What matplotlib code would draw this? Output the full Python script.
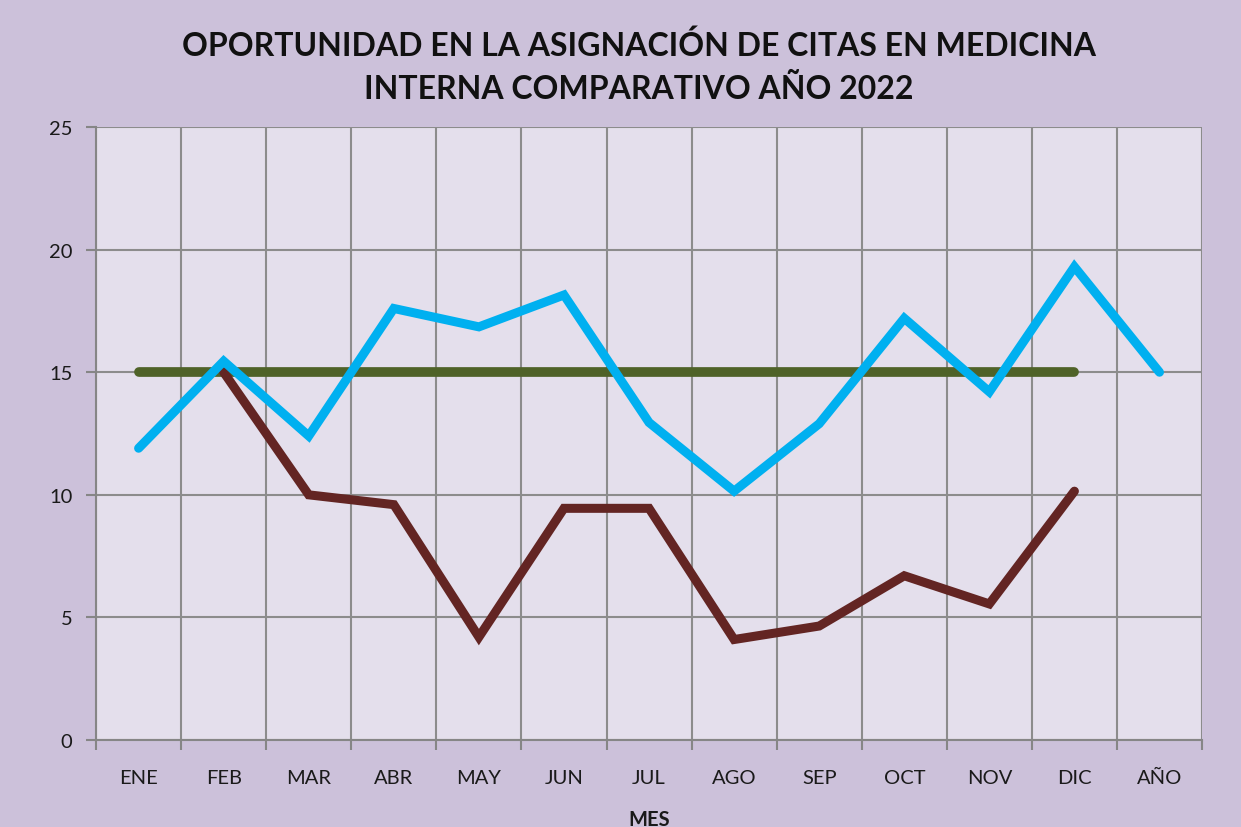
import matplotlib
matplotlib.use("Agg")
import matplotlib.pyplot as plt
import numpy as np

months = ["ENE", "FEB", "MAR", "ABR", "MAY", "JUN", "JUL", "AGO", "SEP", "OCT", "NOV", "DIC", "AÑO"]
serie_azul = [11.9, 15.45, 12.4, 17.6, 16.85, 18.15, 12.95, 10.15, 12.9, 17.2, 14.2, 19.3, 15.0]
serie_roja = [None, 15.0, 10.0, 9.6, 4.2, 9.45, 9.45, 4.1, 4.65, 6.7, 5.55, 10.15, None]
meta = [15, 15, 15, 15, 15, 15, 15, 15, 15, 15, 15, 15, None]
yticks = [0, 5, 10, 15, 20, 25]

def to_arr(v):
    return np.array([np.nan if x is None else x for x in v], dtype=float)

plt.rcParams['font.family'] = ['Lato', 'DejaVu Sans']

fig = plt.figure(figsize=(12.41, 8.28), dpi=100)
fig.patch.set_facecolor("#CCC1DA")
ax = fig.add_axes([0.0774, 0.105, 0.8912, 0.7404])
ax.set_facecolor("#E4DFEC")

x = np.arange(len(months))
ax.plot(x, to_arr(meta), color="#4F6228", lw=7, solid_capstyle="round", zorder=3)
ax.plot(x, to_arr(serie_roja), color="#632523", lw=6.5, solid_capstyle="round", solid_joinstyle="miter", zorder=4)
ax.plot(x, to_arr(serie_azul), color="#00B0F0", lw=6.5, solid_capstyle="round", solid_joinstyle="miter", zorder=5)

ax.set_xlim(-0.5, len(months) - 0.5)
ax.set_ylim(0, 25)
ax.set_yticks(yticks)
ax.set_yticklabels([str(t) for t in yticks], fontsize=14.5, color="#1a1a1a")

# category boundaries
bounds = np.arange(-0.5, len(months), 1.0)
ax.set_xticks(bounds)
ax.set_xticklabels([])
ax.set_xticks(x, minor=True)
ax.set_xticklabels(months, minor=True, fontsize=14.5, color="#1a1a1a")
ax.tick_params(axis="x", which="minor", length=0, pad=21)
ax.tick_params(axis="x", which="major", length=7, width=1.5, color="#868686", direction="out")
ax.tick_params(axis="y", length=7, width=1.5, color="#868686", direction="out", pad=10)

ax.grid(True, which="major", axis="both", color="#8C8C8C", lw=1.5, zorder=1)
ax.set_axisbelow(True)
for s in ["top", "right"]:
    ax.spines[s].set_visible(False)
for s in ["left", "bottom"]:
    ax.spines[s].set_color("#868686")
    ax.spines[s].set_linewidth(1.5)

ax.set_xlabel("MES", fontsize=14.5, fontweight="bold", color="#1a1a1a", labelpad=16)

fig.text(0.515, 0.945, "OPORTUNIDAD EN LA ASIGNACIÓN DE CITAS EN MEDICINA", ha="center", va="center",
         fontsize=23, fontweight="bold", color="#111111")
fig.text(0.515, 0.892, "INTERNA COMPARATIVO AÑO 2022", ha="center", va="center",
         fontsize=23, fontweight="bold", color="#111111")

fig.savefig("out.png", dpi=100, facecolor=fig.get_facecolor())
